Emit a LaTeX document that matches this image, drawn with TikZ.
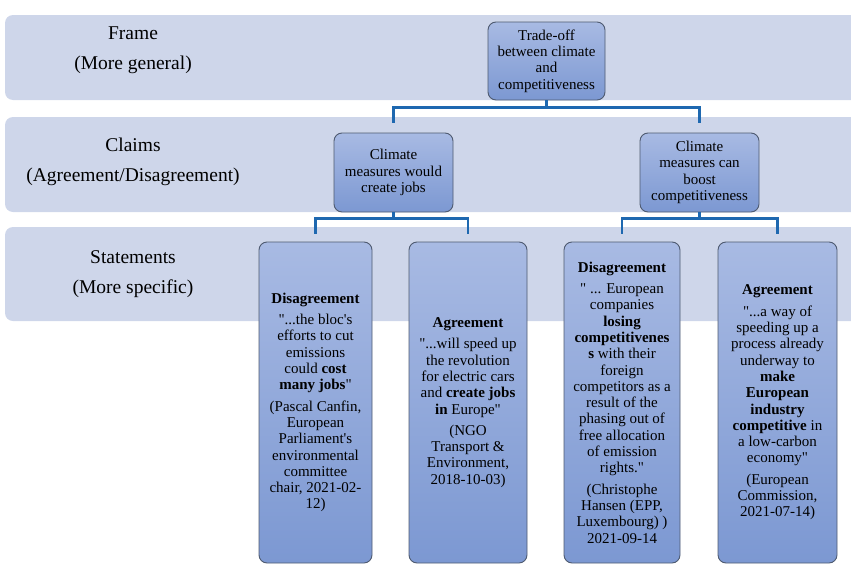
\documentclass[tikz,border=0pt]{standalone}
\usepackage{fontspec}
\setmainfont{Liberation Serif}[Ligatures=TeXOff]
\usetikzlibrary{calc}
\definecolor{bandc}{RGB}{206,214,234}
\definecolor{boxtop}{RGB}{168,186,227}
\definecolor{boxbot}{RGB}{124,152,210}
\definecolor{boxline}{RGB}{78,90,112}
\definecolor{conn}{RGB}{30,104,176}
\begin{document}
\begin{tikzpicture}[x=1pt,y=-1pt,
  bandbox/.style={fill=bandc, rounded corners=8pt, draw=none},
  card/.style={draw=boxline, line width=0.9pt, rounded corners=8pt,
    top color=boxtop, bottom color=boxbot, align=center, inner sep=2pt,
    font=\fontsize{15}{16.3}\selectfont},
  lab/.style={align=center, font=\fontsize{19.5}{30}\selectfont},
  link/.style={draw=conn, line width=2.2pt}]
\useasboundingbox (0,0) rectangle (851,565);
% bands
\path[bandbox] (5,15) rectangle (880,100);
\path[bandbox] (5,117) rectangle (880,212);
\path[bandbox] (5,227) rectangle (880,321);
% labels
\node[lab] (l1) at (133,50) {Frame\\(More general)};
\node[lab] (l2) at (133,162) {Claims\\(Agreement/Disagreement)};
\node[lab] (l3) at (133,274) {Statements\\(More specific)};
% boxes
\node[card, minimum width=117pt, minimum height=78pt] (frame) at (546.5,61)
  {Trade-off\\between climate\\and\\competitiveness};
\node[card, minimum width=119pt, minimum height=79pt] (cl) at (393.5,172.5)
  {Climate\\measures would\\create jobs};
\node[card, minimum width=119pt, minimum height=79pt] (cr) at (699.5,172.5)
  {Climate\\measures can\\boost\\competitiveness};
\node[card, minimum width=113pt, minimum height=321pt] (s1) at (315.5,402.5)
  {\textbf{Disagreement}\\[5pt]
   "...the bloc's\\efforts to cut\\emissions\\could \textbf{cost}\\\textbf{many jobs}"\\[5pt]
   (Pascal Canfin,\\European\\Parliament's\\environmental\\committee\\chair, 2021-02-\\12)};
\node[card, minimum width=118pt, minimum height=321pt] (s2) at (468,402.5)
  {\textbf{Agreement}\\[5pt]
   "...will speed up\\the revolution\\for electric cars\\and \textbf{create jobs}\\\textbf{in} Europe"\\[5pt]
   (NGO\\Transport \&\\Environment,\\2018-10-03)};
\node[card, minimum width=116pt, minimum height=321pt] (s3) at (622,402.5)
  {\textbf{Disagreement}\\[5pt]
   " ... European\\companies\\\textbf{losing}\\\textbf{competitivenes}\\\textbf{s} with their\\foreign\\competitors as a\\result of the\\phasing out of\\free allocation\\of emission\\rights."\\[5pt]
   (Christophe\\Hansen (EPP,\\Luxembourg) )\\2021-09-14};
\node[card, minimum width=119pt, minimum height=321pt] (s4) at (777.5,402.5)
  {\textbf{Agreement}\\[5pt]
   "...a way of\\speeding up a\\process already\\underway to\\\textbf{make}\\\textbf{European}\\\textbf{industry}\\\textbf{competitive} in\\a low-carbon\\economy"\\[5pt]
   (European\\Commission,\\2021-07-14)};
% connector end points
\coordinate (clt) at ($(cl.north)+(0,-10)$);
\coordinate (crt) at ($(cr.north)+(0,-10)$);
\coordinate (s1t) at ($(s1.north)+(0,-8)$);
\coordinate (s2t) at ($(s2.north)+(0,-8)$);
\coordinate (s3t) at ($(s3.north)+(0,-8)$);
\coordinate (s4t) at ($(s4.north)+(0,-8)$);
% connectors
\draw[link] (frame.south) -- ++(0,7) -| (clt);
\draw[link] (frame.south) ++(0,7) -| (crt);
\draw[link] (cl.south) -- ++(0,6) -| (s1t);
\draw[link] (cl.south) ++(0,6) -| (s2t);
\draw[link] (cr.south) -- ++(0,6) -| (s3t);
\draw[link] (cr.south) ++(0,6) -| (s4t);
\end{tikzpicture}
\end{document}
